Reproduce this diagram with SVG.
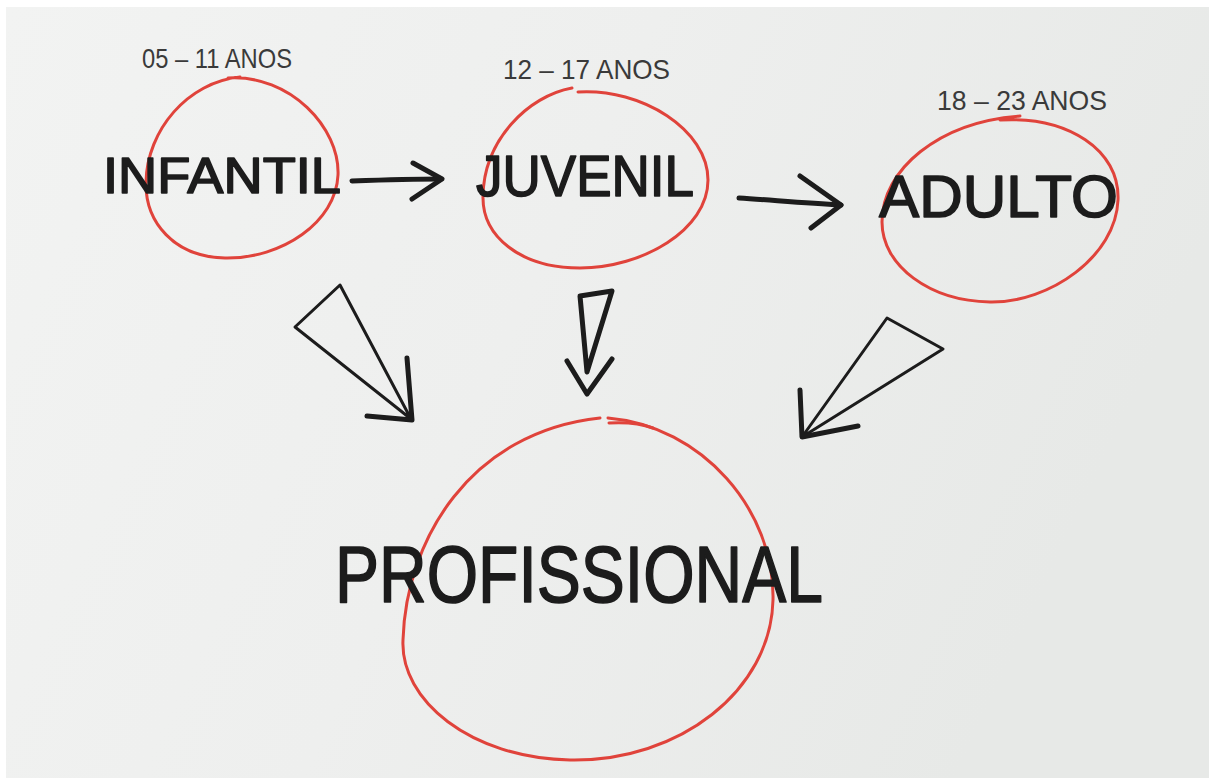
<svg xmlns="http://www.w3.org/2000/svg" width="1212" height="778" viewBox="0 0 1212 778">
  <defs>
    <linearGradient id="paper" x1="0" y1="0" x2="1" y2="0.3">
      <stop offset="0" stop-color="#f2f3f2"/>
      <stop offset="0.5" stop-color="#eeefee"/>
      <stop offset="1" stop-color="#e7e9e7"/>
    </linearGradient>
    <style>
      .ring { fill: none; stroke: #e0433b; stroke-width: 3; stroke-linecap: round; stroke-linejoin: round; }
      .main { font-family: "Liberation Sans", "DejaVu Sans", sans-serif; fill: #1c1c1c; stroke: #1c1c1c; stroke-width: 1.6; stroke-linejoin: round; }
      .age { font-family: "Liberation Sans", "DejaVu Sans", sans-serif; fill: #3a3a3a; font-size: 28px; }
      .ink { fill: none; stroke: #1c1c1c; stroke-linecap: round; stroke-linejoin: round; }
      .thin { stroke-width: 3; }
      .thick { stroke-width: 5; }
    </style>
  </defs>
  <rect x="0" y="0" width="1212" height="778" fill="#ffffff"/>
  <rect x="6" y="7" width="1203" height="771" fill="url(#paper)"/>

  <g id="connectors">
    <!-- INFANTIL -> JUVENIL -->
    <path class="ink thick" d="M352,181 C380,180 410,179 441,179"/>
    <path class="ink thick" d="M413,163 L442,179 L412,199"/>
    <!-- JUVENIL -> ADULTO -->
    <path class="ink thick" d="M739,198 C770,200 805,203 841,205"/>
    <path class="ink thick" d="M800,176 L841,205 L811,228"/>
    <!-- INFANTIL -> PROFISSIONAL -->
    <path class="ink thin" d="M340,285 L295,327 L411,419 Z"/>
    <path class="ink thick" d="M407,358 L412,420 L367,416"/>
    <!-- JUVENIL -> PROFISSIONAL -->
    <path class="ink thick" d="M580,296 L612,291 L587,372 Z"/>
    <path class="ink thick" d="M567,361 L587,394 L612,359"/>
    <!-- ADULTO -> PROFISSIONAL -->
    <path class="ink thin" d="M887,318 L943,349 L802,437 Z"/>
    <path class="ink thick" d="M800,390 L802,437 L858,426"/>
  </g>

  <g id="node-infantil">
    <path class="ring" d="M228,78 C290,74 340,128 338,175 C336,222 282,259 225,258 C174,257 145,222 146,182 C147,130 188,82 240,77"/>
    <text class="main" x="103" y="193" font-size="50" textLength="238" lengthAdjust="spacingAndGlyphs">INFANTIL</text>
    <text class="age" x="142" y="68" textLength="150" lengthAdjust="spacingAndGlyphs">05 – 11 ANOS</text>
  </g>

  <g id="node-juvenil">
    <path class="ring" d="M578,92 C642,88 708,130 708,180 C708,230 642,268 580,268 C520,268 482,236 483,196 C484,140 528,96 572,88"/>
    <text class="main" x="476" y="196" font-size="58" textLength="218" lengthAdjust="spacingAndGlyphs">JUVENIL</text>
    <text class="age" x="503" y="79" textLength="167" lengthAdjust="spacingAndGlyphs">12 – 17 ANOS</text>
  </g>

  <g id="node-adulto">
    <path class="ring" d="M1000,120 C1068,116 1120,150 1118,200 C1116,256 1050,303 990,302 C930,301 882,266 882,222 C882,170 938,122 1020,116"/>
    <text class="main" x="879" y="217" font-size="60" textLength="239" lengthAdjust="spacingAndGlyphs">ADULTO</text>
    <text class="age" x="937" y="110" textLength="170" lengthAdjust="spacingAndGlyphs">18 – 23 ANOS</text>
  </g>

  <g id="node-profissional">
    <path class="ring" d="M608,418 C702,426 775,510 773,600 C771,690 680,762 570,760 C470,758 400,700 403,640 C406,540 470,432 600,418"/>
    <path class="ring" d="M609,423 C625,422 642,424 653,428"/>
    <text class="main" x="335" y="602" font-size="80" textLength="488" lengthAdjust="spacingAndGlyphs">PROFISSIONAL</text>
  </g>
</svg>
